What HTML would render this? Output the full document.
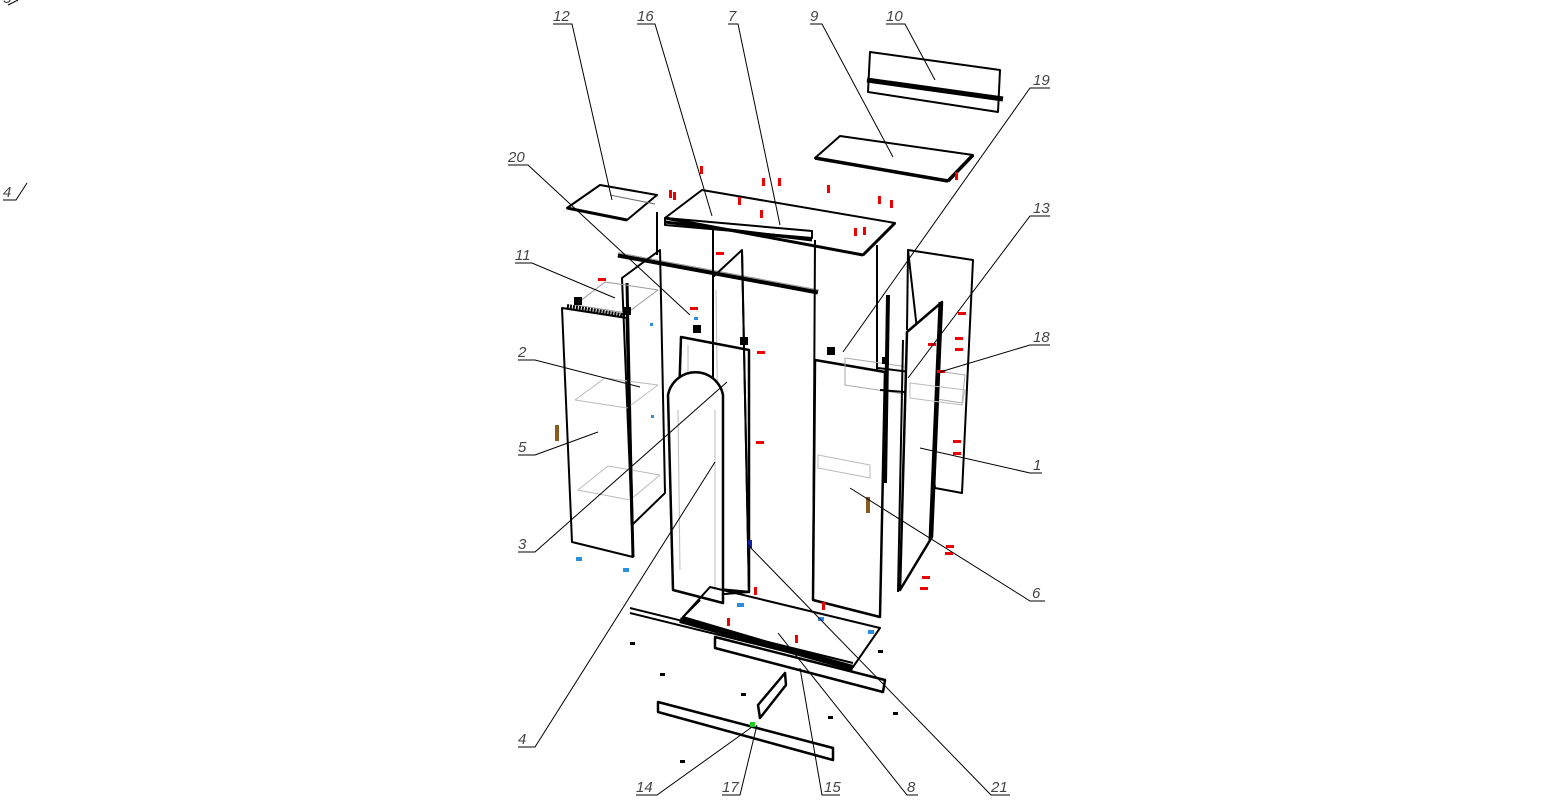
<!DOCTYPE html>
<html><head><meta charset="utf-8"><style>
html,body{margin:0;padding:0;background:#fff;}
svg{display:block;}
text{font-family:"Liberation Sans",sans-serif;font-style:italic;font-size:15px;fill:#444;}
</style></head><body>
<svg width="1557" height="804" viewBox="0 0 1557 804" xmlns="http://www.w3.org/2000/svg">
<g fill="none" stroke="#000" stroke-linejoin="round">
<!-- panel 10 -->
<polygon points="870,52 1000,70 998,112 868,92" stroke-width="2"/>
<line x1="867" y1="80" x2="1003" y2="99" stroke-width="5"/>
<!-- panel 9 -->
<polygon points="815,158 840,136 973,155 948,181" stroke-width="2"/>
<line x1="815" y1="158" x2="948" y2="181" stroke-width="3.5"/>
<line x1="948" y1="181" x2="973" y2="155" stroke-width="3.5"/>
<!-- shelf 12 -->
<polygon points="567,208 600,185 657,195 627,220" stroke-width="2"/>
<line x1="567" y1="208" x2="627" y2="220" stroke-width="3"/>
<line x1="610" y1="195" x2="655" y2="204" stroke="#666"/>
<!-- top panel 7 -->
<polygon points="702,190 895,223 863,255 665,218" stroke-width="2"/>
<line x1="665" y1="218" x2="863" y2="255" stroke-width="3"/>
<line x1="863" y1="255" x2="895" y2="223" stroke-width="3"/>
<!-- bar 16 -->
<polygon points="665,218 812,231 812,238 665,225" stroke-width="2"/>
<line x1="665" y1="222" x2="812" y2="240" stroke-width="3"/>
<!-- bar 20 -->
<line x1="618" y1="255" x2="818" y2="292" stroke-width="5"/>
<line x1="618" y1="253" x2="818" y2="290" stroke="#aaa" stroke-width="1"/>
<!-- main carcass verticals -->
<line x1="657" y1="212" x2="657" y2="255" stroke-width="2"/>
<line x1="713" y1="228" x2="713" y2="595" stroke-width="2"/>
<line x1="815" y1="240" x2="813" y2="600" stroke-width="2"/>
<line x1="877" y1="245" x2="877" y2="372" stroke-width="2"/>
<!-- left cabinet back -->
<polygon points="622,278 660,250 665,493 632,525" stroke-width="2"/>
<line x1="627" y1="283" x2="632" y2="525" stroke-width="3"/>
<polygon points="575,305 605,282 658,290 627,313" stroke="#999"/>
<polygon points="575,400 605,378 658,385 627,408" stroke="#bbb"/>
<polygon points="578,490 608,466 660,475 630,500" stroke="#bbb"/>
<!-- left side panel 5 -->
<polygon points="562,308 627,318 633,557 572,542" stroke-width="2"/>
<line x1="627" y1="318" x2="633" y2="557" stroke-width="3"/>
<line x1="567" y1="306" x2="627" y2="316" stroke-width="4" stroke-dasharray="2 1"/>
<!-- middle panel -->
<polygon points="713,277 742,250 749,592 713,595" stroke-width="2"/>
<line x1="742" y1="250" x2="749" y2="592" stroke-width="2"/>
<line x1="716" y1="290" x2="720" y2="580" stroke="#bbb"/>
<!-- door 3 -->
<polygon points="681,337 749,350 749,592 673,585" stroke-width="2.5"/>
<line x1="688" y1="345" x2="688" y2="570" stroke="#bbb"/>
<!-- arched door 4 -->
<path d="M673,590 L668,395 A28,28 0 0 1 723,395 L723,603 Z" stroke-width="2.5" fill="#fff"/>
<path d="M680,570 L678,410 M715,590 L715,410" stroke="#bbb"/>
<!-- right door 6 -->
<polygon points="815,360 885,372 880,617 813,600" stroke-width="2.5" fill="#fff"/>
<polygon points="845,358 965,375 962,403 845,385" stroke="#aaa"/>
<polygon points="818,455 870,465 870,478 818,468" stroke="#bbb"/>
<line x1="888" y1="295" x2="885" y2="483" stroke-width="4"/>
<line x1="878" y1="368" x2="910" y2="372" stroke-width="2"/>
<line x1="880" y1="390" x2="905" y2="392" stroke-width="2"/>
<!-- right side panel 1 -->
<polygon points="908,250 973,260 962,493 935,488" stroke-width="2"/>
<line x1="908" y1="250" x2="907" y2="330" stroke-width="2"/>
<!-- narrow door 13 -->
<polygon points="907,332 942,302 932,537 900,590" stroke-width="2.5" fill="#fff"/>
<line x1="940" y1="302" x2="930" y2="540" stroke-width="3"/>
<line x1="903" y1="340" x2="898" y2="592" stroke-width="2"/>
<polygon points="910,383 965,390 962,405 910,398" stroke="#bbb"/>
<!-- bottom panel 8 -->
<polygon points="710,587 880,628 853,667 683,617" stroke-width="2"/>
<line x1="700" y1="600" x2="683" y2="617" stroke-width="2"/>
<!-- rail -->
<line x1="630" y1="608" x2="853" y2="663" stroke-width="2"/>
<line x1="630" y1="613" x2="853" y2="668" stroke-width="2"/>
<line x1="680" y1="620" x2="853" y2="668" stroke-width="6"/>
<!-- plinth 15 -->
<polygon points="715,637 885,680 883,692 715,648" stroke-width="2.5"/>
<!-- 14 -->
<polygon points="658,702 833,748 833,760 658,712" stroke-width="2.5"/>
<!-- 17 -->
<polygon points="758,705 785,673 786,685 760,718" stroke-width="2.5"/>
</g>
<!-- markers -->
<g fill="#e00">
<rect x="700" y="166" width="3" height="8"/><rect x="762" y="178" width="3" height="8"/><rect x="778" y="178" width="3" height="8"/>
<rect x="827" y="185" width="3" height="8"/><rect x="669" y="190" width="3" height="8"/><rect x="673" y="192" width="3" height="8"/>
<rect x="738" y="197" width="3" height="8"/><rect x="760" y="210" width="3" height="8"/><rect x="878" y="196" width="3" height="8"/>
<rect x="890" y="200" width="3" height="8"/><rect x="854" y="228" width="3" height="8"/><rect x="863" y="227" width="3" height="8"/>
<rect x="955" y="172" width="3" height="8"/>
<rect x="716" y="252" width="8" height="3"/><rect x="598" y="278" width="8" height="3"/><rect x="690" y="307" width="8" height="3"/>
<rect x="757" y="351" width="8" height="3"/><rect x="756" y="441" width="8" height="3"/>
<rect x="958" y="312" width="8" height="3"/><rect x="928" y="343" width="8" height="3"/><rect x="955" y="337" width="8" height="3"/>
<rect x="955" y="348" width="8" height="3"/><rect x="937" y="370" width="8" height="3"/><rect x="953" y="440" width="8" height="3"/>
<rect x="953" y="452" width="8" height="3"/><rect x="946" y="545" width="8" height="3"/><rect x="945" y="552" width="8" height="3"/>
<rect x="922" y="576" width="8" height="3"/><rect x="920" y="587" width="8" height="3"/>
<rect x="754" y="587" width="3" height="8"/><rect x="822" y="602" width="3" height="8"/><rect x="727" y="618" width="3" height="8"/><rect x="795" y="635" width="3" height="8"/>
</g>
<g fill="#2a8ee0">
<rect x="576" y="557" width="6" height="4"/><rect x="623" y="568" width="6" height="4"/><rect x="737" y="603" width="7" height="4"/>
<rect x="818" y="617" width="6" height="4"/><rect x="868" y="630" width="6" height="4"/><rect x="694" y="317" width="4" height="3"/>
<rect x="650" y="323" width="3" height="3"/><rect x="651" y="415" width="3" height="3"/>
</g>
<g fill="#000">
<rect x="693" y="325" width="8" height="8"/><rect x="740" y="337" width="8" height="8"/><rect x="827" y="347" width="8" height="8"/>
<rect x="574" y="297" width="8" height="8"/><rect x="623" y="307" width="8" height="8"/><rect x="882" y="357" width="7" height="7"/>
<rect x="630" y="642" width="5" height="3"/><rect x="660" y="673" width="5" height="3"/><rect x="741" y="693" width="5" height="3"/>
<rect x="878" y="650" width="5" height="3"/><rect x="828" y="716" width="5" height="3"/><rect x="893" y="712" width="5" height="3"/>
<rect x="680" y="760" width="5" height="3"/>
</g>
<rect x="555" y="425" width="4" height="16" fill="#8b5a1e"/>
<rect x="866" y="497" width="4" height="16" fill="#8b5a1e"/>
<rect x="748" y="540" width="4" height="8" fill="#1020a0"/>
<rect x="750" y="722" width="5" height="5" fill="#2c2"/>
<!-- leaders -->
<g stroke="#000" stroke-width="1" fill="none">
<path d="M553,24H572L612,200"/>
<path d="M637,24H655L712,216"/>
<path d="M728,24H738L780,225"/>
<path d="M810,24H822L893,157"/>
<path d="M886,24H905L935,80"/>
<path d="M1050,88H1030L843,352"/>
<path d="M1050,216H1030L908,378"/>
<path d="M1050,345H1030L940,372"/>
<path d="M1042,473H1030L920,448"/>
<path d="M1045,601H1030L850,488"/>
<path d="M1010,795H991L748,545"/>
<path d="M918,795H907L778,633"/>
<path d="M840,795H822L800,668"/>
<path d="M722,795H740L757,725"/>
<path d="M636,795H657L752,727"/>
<path d="M518,747H535L715,462"/>
<path d="M518,552H535L727,382"/>
<path d="M518,455H535L598,432"/>
<path d="M518,360H535L640,387"/>
<path d="M515,263H532L615,298"/>
<path d="M508,165H528L690,315"/>
<path d="M3,200H16L27,183"/>
<path d="M8,5L18,0"/>
</g>
<g>
<text x="553" y="21">12</text><text x="637" y="21">16</text><text x="728" y="21">7</text>
<text x="810" y="21">9</text><text x="886" y="21">10</text><text x="1033" y="85">19</text>
<text x="1033" y="213">13</text><text x="1033" y="342">18</text><text x="1033" y="470">1</text>
<text x="1032" y="598">6</text><text x="991" y="792">21</text><text x="907" y="792">8</text>
<text x="824" y="792">15</text><text x="722" y="792">17</text><text x="636" y="792">14</text>
<text x="518" y="744">4</text><text x="518" y="549">3</text><text x="518" y="452">5</text>
<text x="518" y="357">2</text><text x="515" y="260">11</text><text x="508" y="162">20</text>
<text x="3" y="197">4</text><text x="3" y="3">5</text>
</g>
</svg>
</body></html>
